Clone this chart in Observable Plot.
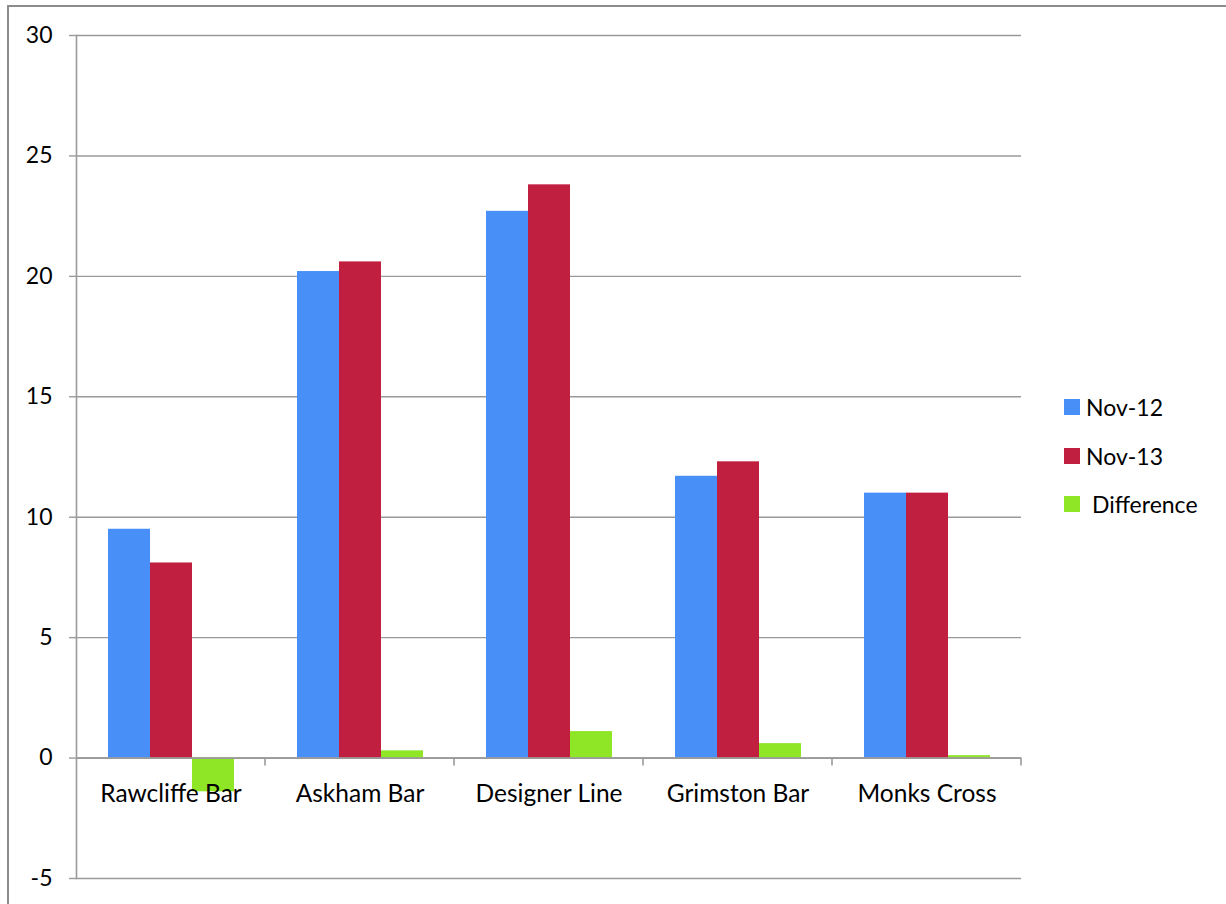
<!DOCTYPE html>
<html>
<head>
<meta charset="utf-8">
<script src="https://cdn.jsdelivr.net/npm/d3@7"></script>
<script src="https://cdn.jsdelivr.net/npm/@observablehq/plot@0.6"></script>
<style>
  html, body { margin: 0; padding: 0; background: #fff; overflow: hidden; }
  #wrap { position: relative; width: 1226px; height: 904px; }
  #border { position: absolute; left: 7px; top: 5px; width: 1260px; height: 940px;
            border-left: 2px solid #8c8c8c; border-top: 2px solid #8c8c8c; box-sizing: border-box; }
  #chart { position: absolute; left: 0; top: 0; }
  #legend { position: absolute; left: 1064px; top: 383px; font-family: Lato, "Open Sans", sans-serif;
            font-size: 23px; color: #000; }
  .item { display: flex; align-items: center; height: 48.5px; }
  .sw { width: 16px; height: 16px; margin-right: 6px; }
</style>
</head>
<body>
<div id="wrap">
  <div id="border"></div>
  <div id="chart"></div>
  <div id="legend"></div>
</div>
<script>
const categories = ["Rawcliffe Bar", "Askham Bar", "Designer Line", "Grimston Bar", "Monks Cross"];
const seriesNames = ["Nov-12", "Nov-13", "Difference"];
const nov12 = [9.5, 20.2, 22.7, 11.7, 11.0];
const nov13 = [8.1, 20.6, 23.8, 12.3, 11.0];
const difference = [-1.4, 0.3, 1.1, 0.6, 0.1];
const yTicks = [-5, 0, 5, 10, 15, 20, 25, 30];
const colors = ["#4890f7", "#c11f40", "#8fe626"];

const seriesValues = [nov12, nov13, difference];
const data = [];
categories.forEach((c, i) => {
  seriesNames.forEach((s, j) => data.push({category: c, series: s, value: seriesValues[j][i]}));
});

const gridColor = "#9a9a9a";
const font = "Lato, 'Open Sans', sans-serif";

const boundaryTick = (index, scales, values, dims) => {
  const x = dims.width - dims.marginRight;
  const y0 = scales.y(0);
  const g = d3.create("svg:line")
    .attr("x1", x).attr("x2", x)
    .attr("y1", y0).attr("y2", y0 + 8)
    .attr("stroke", gridColor).attr("stroke-width", 1.6);
  return g.node();
};

const chart = Plot.plot({
  width: 1226,
  height: 904,
  marginLeft: 75,
  marginRight: 205,
  marginTop: 35,
  marginBottom: 26,
  style: {fontFamily: font, fontSize: "24px", color: "#000", background: "transparent"},
  fx: {domain: categories, padding: 0, axis: null},
  x: {domain: seriesNames, paddingInner: 0, paddingOuter: 0.75, axis: null},
  y: {domain: [-5, 30], axis: null},
  color: {domain: seriesNames, range: colors},
  marks: [
    Plot.ruleY(yTicks, {y: d => d, stroke: gridColor, strokeWidth: 1.4, strokeOpacity: 1}),
    Plot.barY(data, {fx: "category", x: "series", y: "value", fill: "series"}),
    Plot.ruleY([0], {stroke: gridColor, strokeWidth: 1.8, strokeOpacity: 1}),
    boundaryTick,
    Plot.frame({anchor: "left", facetAnchor: "left", stroke: gridColor, strokeWidth: 1.6, strokeOpacity: 1}),
    Plot.axisY({ticks: yTicks, label: null, tickSize: 7, tickPadding: 17, stroke: gridColor, strokeWidth: 1.4, strokeOpacity: 1,
                tickFormat: d => d < 0 ? "-" + Math.abs(d) : String(d), fill: "#000", fontSize: 23}),
    Plot.text(categories, {fx: d => d, y: () => 0, text: d => d, dy: 36, fill: "#000", fontSize: 24.5})
  ]
});
document.getElementById("chart").appendChild(chart);

const legend = document.getElementById("legend");
seriesNames.forEach((s, j) => {
  const item = document.createElement("div");
  item.className = "item";
  const sw = document.createElement("div");
  sw.className = "sw";
  sw.style.background = colors[j];
  const label = document.createElement("span");
  label.textContent = (s === "Difference" ? "\u00a0" : "") + s;
  item.appendChild(sw);
  item.appendChild(label);
  legend.appendChild(item);
});
</script>
</body>
</html>
